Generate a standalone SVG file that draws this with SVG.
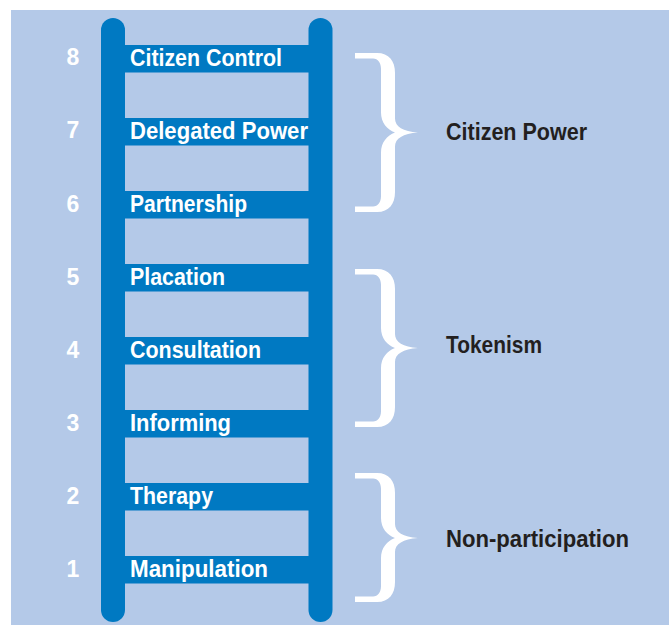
<svg xmlns="http://www.w3.org/2000/svg" width="669" height="625" viewBox="0 0 669 625">
<style>
.bg{fill:#b4c9e8}
.ladder{fill:#0079c2}
.rung{fill:#0079c2}
.lbl{font-family:"Liberation Sans",Arial,sans-serif;font-weight:bold;font-size:24px;fill:#ffffff}
.num{font-family:"Liberation Sans",Arial,sans-serif;font-weight:bold;font-size:23px;fill:#ffffff;text-anchor:middle}
.grp{font-family:"Liberation Sans",Arial,sans-serif;font-weight:bold;font-size:24px;fill:#231f20}
.brace{fill:#ffffff}
</style>
<rect class="bg" x="11" y="10" width="658" height="615"/>
<g id="rails">
<rect class="ladder" x="101" y="18" width="24" height="604" rx="12"/>
<rect class="ladder" x="308.5" y="18" width="24" height="604" rx="12"/>
</g>
<g id="rung8"><rect class="rung" x="124" y="45" width="186" height="27.5"/><text class="num" x="73" y="65">8</text><text class="lbl" x="130" y="65.5" textLength="152" lengthAdjust="spacingAndGlyphs">Citizen Control</text></g>
<g id="rung7"><rect class="rung" x="124" y="118" width="186" height="27.5"/><text class="num" x="73" y="138">7</text><text class="lbl" x="130" y="138.5" textLength="178" lengthAdjust="spacingAndGlyphs">Delegated Power</text></g>
<g id="rung6"><rect class="rung" x="124" y="191" width="186" height="27.5"/><text class="num" x="73" y="211.5">6</text><text class="lbl" x="130" y="212" textLength="117" lengthAdjust="spacingAndGlyphs">Partnership</text></g>
<g id="rung5"><rect class="rung" x="124" y="264" width="186" height="27.5"/><text class="num" x="73" y="284.5">5</text><text class="lbl" x="130" y="285" textLength="95" lengthAdjust="spacingAndGlyphs">Placation</text></g>
<g id="rung4"><rect class="rung" x="124" y="337" width="186" height="27.5"/><text class="num" x="73" y="357.5">4</text><text class="lbl" x="130" y="358" textLength="131" lengthAdjust="spacingAndGlyphs">Consultation</text></g>
<g id="rung3"><rect class="rung" x="124" y="410" width="186" height="27.5"/><text class="num" x="73" y="430.5">3</text><text class="lbl" x="130" y="431" textLength="101" lengthAdjust="spacingAndGlyphs">Informing</text></g>
<g id="rung2"><rect class="rung" x="124" y="483" width="186" height="27.5"/><text class="num" x="73" y="503.5">2</text><text class="lbl" x="130" y="504" textLength="83" lengthAdjust="spacingAndGlyphs">Therapy</text></g>
<g id="rung1"><rect class="rung" x="124" y="556" width="186" height="27.5"/><text class="num" x="73" y="576.5">1</text><text class="lbl" x="130" y="577" textLength="138" lengthAdjust="spacingAndGlyphs">Manipulation</text></g>
<g id="citizen-power">
<path class="brace" transform="translate(355,53)" d="M0,0 L22,0 C34,0 40,8 40,20 L40,65.5 C40,73.5 48,78.5 63,79.5 C48,80.5 40,85.5 40,93.5 L40,139 C40,151 34,159 22,159 L0,159 L0,153.5 L18,153.5 C23,153.5 26,149 26,143 L26,99.5 C26,89.5 32,82.5 40,79.5 C32,76.5 26,69.5 26,59.5 L26,16 C26,10 23,5.5 18,5.5 L0,5.5 Z"/>
<text class="grp" x="446" y="140" textLength="141" lengthAdjust="spacingAndGlyphs">Citizen Power</text>
</g>
<g id="tokenism">
<path class="brace" transform="translate(355,269)" d="M0,0 L22,0 C34,0 40,8 40,20 L40,65 C40,73 48,78 63,79 C48,80 40,85 40,93 L40,138 C40,150 34,158 22,158 L0,158 L0,152.5 L18,152.5 C23,152.5 26,148 26,142 L26,99 C26,89 32,82 40,79 C32,76 26,69 26,59 L26,16 C26,10 23,5.5 18,5.5 L0,5.5 Z"/>
<text class="grp" x="446" y="353" textLength="96" lengthAdjust="spacingAndGlyphs">Tokenism</text>
</g>
<g id="non-participation">
<path class="brace" transform="translate(355,473)" d="M0,0 L22,0 C34,0 40,8 40,20 L40,51 C40,59 48,64 63,65 C48,66 40,71 40,79 L40,109 C40,121 34,129 22,129 L0,129 L0,123.5 L18,123.5 C23,123.5 26,119 26,113 L26,85 C26,75 32,68 40,65 C32,62 26,55 26,45 L26,16 C26,10 23,5.5 18,5.5 L0,5.5 Z"/>
<text class="grp" x="446" y="547" textLength="183" lengthAdjust="spacingAndGlyphs">Non-participation</text>
</g>
</svg>
